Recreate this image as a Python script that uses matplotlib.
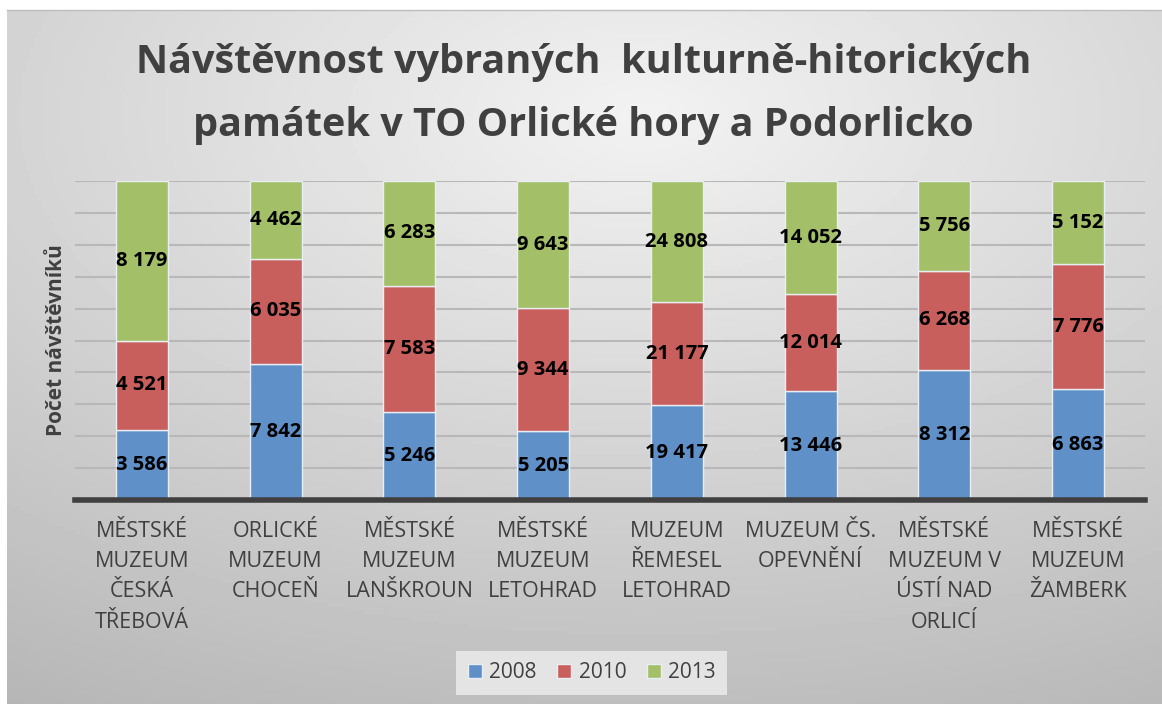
import matplotlib.pyplot as plt
import numpy as np

categories = ["MĚSTSKÉ\nMUZEUM\nČESKÁ\nTŘEBOVÁ", "ORLICKÉ\nMUZEUM\nCHOCEŇ", "MĚSTSKÉ\nMUZEUM\nLANŠKROUN",
              "MĚSTSKÉ\nMUZEUM\nLETOHRAD", "MUZEUM\nŘEMESEL\nLETOHRAD", "MUZEUM ČS.\nOPEVNĚNÍ",
              "MĚSTSKÉ\nMUZEUM V\nÚSTÍ NAD\nORLICÍ", "MĚSTSKÉ\nMUZEUM\nŽAMBERK"]
years = ["2008", "2010", "2013"]
visitors_2008 = np.array([3586, 7842, 5246, 5205, 19417, 13446, 8312, 6863])
visitors_2010 = np.array([4521, 6035, 7583, 9344, 21177, 12014, 6268, 7776])
visitors_2013 = np.array([8179, 4462, 6283, 9643, 24808, 14052, 5756, 5152])

colors = ["#6090C8", "#C85F5D", "#A3C068"]
font = "Open Sans"
text_grey = "#404040"

fig = plt.figure(figsize=(11.62, 7.04), dpi=100)

# grey gradient panel behind everything
bg = fig.add_axes([7 / 1162, 0, 1 - 7 / 1162, 1 - 10 / 704], zorder=-5)
yy, xx = np.mgrid[0:1:200j, 0:1:300j]
dist = np.sqrt(((xx - 0.55) / 1.1) ** 2 + ((yy - 0.15) / 1.0) ** 2)
shade = 0.95 - 0.24 * np.clip(dist, 0, 1)
bg.imshow(shade, cmap="gray", vmin=0, vmax=1, aspect="auto", extent=[0, 1, 1, 0])
bg.set_axis_off()
fig.add_artist(plt.Line2D([7 / 1162, 1], [1 - 10 / 704] * 2, color="#BDBDBD", lw=1))

ax = fig.add_axes([75 / 1162, 1 - 500 / 704, 1070 / 1162, 319 / 704])
ax.set_facecolor("none")

totals = visitors_2008 + visitors_2010 + visitors_2013
series = [visitors_2008, visitors_2010, visitors_2013]
x = np.arange(len(categories))
bottom = np.zeros(len(categories))
for vals, col, yr in zip(series, colors, years):
    share = vals / totals * 100
    ax.bar(x, share, bottom=bottom, width=0.39, color=col, edgecolor="#E8EEF4",
           linewidth=1, label=yr, zorder=3)
    for xi, b, s, v in zip(x, bottom, share, vals):
        ax.text(xi, b + s / 2, f"{v:,}".replace(",", " "), ha="center", va="center",
                fontsize=14.5, fontweight="bold", color="black", family=font, zorder=4)
    bottom += share

ax.set_xlim(-0.5, len(categories) - 0.5)
ax.set_ylim(0, 100)
ax.set_yticks(np.arange(0, 101, 10))
ax.set_yticklabels([])
ax.tick_params(axis="both", length=0)
ax.grid(axis="y", color="#B8B8B8", linewidth=1.5, zorder=0)
for s in ["top", "right", "left"]:
    ax.spines[s].set_visible(False)
ax.spines["bottom"].set_color(text_grey)
ax.spines["bottom"].set_linewidth(4)
ax.spines["bottom"].set_zorder(5)

ax.set_xticks(x)
ax.set_xticklabels(categories, fontsize=15.5, color=text_grey, family=font, linespacing=1.58, va="top")
ax.tick_params(axis="x", pad=15)
ax.set_ylabel("Počet návštěvníků", fontsize=15, fontweight="bold", color=text_grey, family=font)
ax.yaxis.set_label_coords(-8 / 1070, 0.5)

fig.text(0.502, 1 - 94 / 704, "Návštěvnost vybraných  kulturně-hitorických\npamátek v TO Orlické hory a Podorlicko",
         ha="center", va="center", fontsize=28.5, fontweight="bold", color=text_grey, family=font, linespacing=1.8)

leg = ax.legend(loc="center", bbox_to_anchor=(0.483, -0.542), ncol=3, frameon=True,
                handlelength=0.67, handleheight=0.67, handletextpad=0.35, columnspacing=1.0,
                borderpad=0.45, prop={"family": font, "size": 15})
leg.get_frame().set_facecolor("#E4E4E4")
leg.get_frame().set_edgecolor("none")
leg.get_frame().set_alpha(1)
leg.get_frame().set_boxstyle("square", pad=0.1)
for t in leg.get_texts():
    t.set_color(text_grey)

fig.savefig("out.png", dpi=100)
